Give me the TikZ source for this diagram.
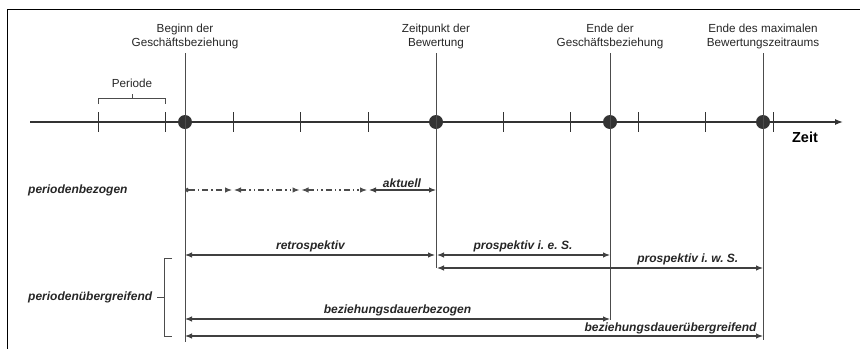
\documentclass[tikz,border=0pt]{standalone}
\usepackage{fontspec}
\setmainfont{Liberation Sans}
\usetikzlibrary{arrows.meta, positioning}

\tikzset{
  hd/.tip      ={Latex[length=7pt, width=5.5pt]},
  lbl/.style   ={font=\fontsize{11.7}{14}\selectfont, align=center, inner sep=1pt, text=black!85},
  kind/.style  ={font=\fontsize{12}{14}\selectfont\bfseries\itshape, inner sep=1pt, text=black!85},
  dot/.style   ={circle, fill=black!80, inner sep=0pt, minimum size=14pt},
  vline/.style ={draw=black!70, line width=0.9pt},
  span/.style  ={draw=black!75, line width=1.1pt, hd-hd},
  phase/.style ={draw=black!70, line width=1.1pt, dash pattern=on 6pt off 3pt on 1.5pt off 3pt},
  phase2/.style={phase, dash pattern=on 6pt off 3pt on 1.5pt off 3pt on 1.5pt off 3pt},
}

\begin{document}
\begin{tikzpicture}[x=1pt, y=-1pt]
\useasboundingbox (0,0) rectangle (860,349);

% frame
\draw [line width=0.8pt] (860,9) -- (7,9) -- (7,349);

% time axis
\coordinate (t0) at (30,122);
\coordinate (t1) at (843,122);
\draw [line width=1.3pt, black!80, -{Latex[length=8pt, width=6pt]}] (t0) -- (t1);
\foreach \x in {98, 165.5, 233, 300.5, 368, 503, 570.5, 638, 705.5, 773}
  \draw [line width=0.9pt, black!80] (\x,112) -- (\x,132);

\node [dot                                       ] (beginn)    at (185,122) {};
\node [dot                                       ] (bewertung) at (436,122) {};
\node [dot                                       ] (ende)      at (610,122) {};
\node [dot                                       ] (maxende)   at (763,122) {};
\node [font=\fontsize{14.5}{16}\selectfont\bfseries] (zeit)   at (805,137) {Zeit};

% points in time
\node [lbl] (lbeginn)    at (185,36.5) {Beginn der\\Geschäftsbeziehung};
\node [lbl] (lbewertung) at (436,36.5) {Zeitpunkt der\\Bewertung};
\node [lbl] (lende)      at (610,36.5) {Ende der\\Geschäftsbeziehung};
\node [lbl] (lmaxende)   at (763,36.5) {Ende des maximalen\\Bewertungszeitraums};

\coordinate (beginn-b)    at (185,342);
\coordinate (bewertung-b) at (436,268);
\coordinate (ende-b)      at (610,320);
\coordinate (maxende-b)   at (763,340);

\draw [vline, shorten <=3pt] (lbeginn.south)    -- (beginn-b);
\draw [vline, shorten <=3pt] (lbewertung.south) -- (bewertung-b);
\draw [vline, shorten <=3pt] (lende.south)      -- (ende-b);
\draw [vline, shorten <=3pt] (lmaxende.south)   -- (maxende-b);

% Periode
\node [lbl] (periode) at (132,83) {Periode};
\draw [line width=0.9pt, black!70] (98,104) -- (98,98) -- (165.5,98) -- (165.5,104) (132,98) -- (132,94);

% periodenbezogen
\node [kind, anchor=west] (pbez) at (27,190) {periodenbezogen};
\coordinate (p0) at (185,190);
\coordinate (p1) at (233,190);
\coordinate (p2) at (300.5,190);
\coordinate (p3) at (368,190);
\coordinate (p4) at (436,190);
\draw [phase, {Circle[length=4.5pt]}-hd, shorten >=1pt] (p0) -- (p1);
\draw [phase2, hd-hd, shorten <=1pt, shorten >=1pt] (p1) -- (p2);
\draw [phase2, hd-hd, shorten <=1pt, shorten >=1pt] (p2) -- (p3);
\draw [span, shorten <=1pt] (p3) -- node [kind, above=1pt] {aktuell} (p4);

% periodenuebergreifend
\node [kind, anchor=west] (pueb) at (27,297) {periodenübergreifend};
\draw [line width=0.9pt, black!70] (172,258) -- (164,258) -- (164,336) -- (172,336) (164,297) -- (157,297);

\coordinate (r0) at (185,255);
\coordinate (r1) at (436,255);
\coordinate (r2) at (610,255);
\coordinate (w0) at (436,268);
\coordinate (w1) at (763,268);
\coordinate (d0) at (185,319);
\coordinate (d1) at (610,319);
\coordinate (u0) at (185,336);
\coordinate (u1) at (763,336);

\draw [span, shorten >=1pt] (r0) -- node [kind, above=1pt] {retrospektiv} (r1);
\draw [span, shorten <=1pt] (r1) -- node [kind, above=1pt] {prospektiv i.\ e.\ S.} (r2);
\draw [span, shorten <=1pt] (w0) -- node [kind, above=1pt, pos=0.77] {prospektiv i.\ w.\ S.} (w1);
\draw [span] (d0) -- node [kind, above=1pt] {beziehungsdauerbezogen} (d1);
\draw [span] (u0) -- node [kind, above=0pt, pos=0.84] {beziehungsdauerübergreifend} (u1);

\end{tikzpicture}
\end{document}
